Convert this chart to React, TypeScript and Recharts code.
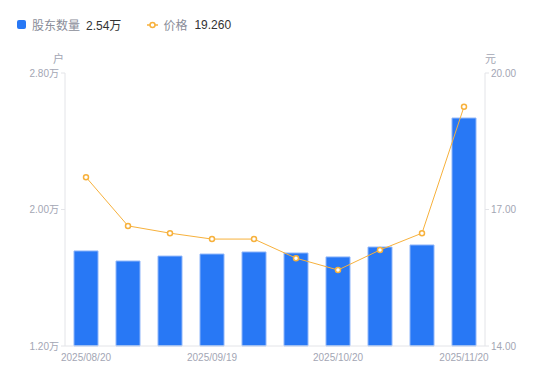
import { ComposedChart, Bar, Line, XAxis, YAxis } from 'recharts';

const dates = [
  '2025/08/20', '2025/08/29', '2025/09/10', '2025/09/19', '2025/09/30',
  '2025/10/10', '2025/10/20', '2025/10/31', '2025/11/10', '2025/11/20',
];
const holders = [17570, 16980, 17270, 17390, 17510, 17450, 17220, 17800, 17920, 25360];
const prices = [17.71, 16.64, 16.48, 16.35, 16.35, 15.93, 15.67, 16.11, 16.48, 19.26];

const holderTicks = [12000, 20000, 28000];
const priceTicks = [14, 17, 20];

const data = dates.map((d, i) => ({ date: d, holders: holders[i], price: prices[i] }));

const FONT = '"Liberation Sans", "Noto Sans CJK SC", sans-serif';
const BLUE = '#2878f5';
const ORANGE = '#f7b13c';
const GRAY = '#a3a6b4';
const AXIS = '#e3e4e8';

export default function App() {
  const tickStyle = { fill: GRAY, fontSize: 10, fontFamily: FONT };
  return (
    <div style={{ position: 'absolute', left: 0, top: 0, width: 550, height: 381, fontFamily: FONT }}>
      <div style={{ position: 'absolute', left: 17, top: 16, height: 17, display: 'flex', alignItems: 'center', fontSize: 12 }}>
        <span style={{ width: 9, height: 9, background: BLUE, borderRadius: 2, display: 'inline-block' }} />
        <span style={{ color: '#8a8d99', marginLeft: 6 }}>股东数量</span>
        <span style={{ color: '#333', marginLeft: 6 }}>2.54万</span>
        <svg width={11} height={8} style={{ marginLeft: 26 }}>
          <line x1={0} y1={4} x2={11} y2={4} stroke={ORANGE} strokeWidth={1.5} />
          <circle cx={5.5} cy={4} r={2.5} fill="#fff" stroke={ORANGE} strokeWidth={1.5} />
        </svg>
        <span style={{ color: '#8a8d99', marginLeft: 5 }}>价格</span>
        <span style={{ color: '#333', marginLeft: 7 }}>19.260</span>
      </div>
      <div style={{ position: 'absolute', left: 53, top: 50, fontSize: 11, color: GRAY }}>户</div>
      <div style={{ position: 'absolute', left: 485, top: 50, fontSize: 11, color: GRAY }}>元</div>
      <ComposedChart width={550} height={381} data={data} margin={{ top: 73, right: 8, bottom: 10, left: 8 }}>
        <XAxis
          dataKey="date"
          interval={2}
          tick={tickStyle}
          tickLine={false}
          axisLine={{ stroke: AXIS }}
          height={25}
        />
        <YAxis
          yAxisId="left"
          width={57}
          domain={[12000, 28000]}
          ticks={holderTicks}
          tickFormatter={(v: number) => (v / 10000).toFixed(2) + '万'}
          tick={tickStyle}
          tickSize={4}
          tickLine={{ stroke: AXIS }}
          axisLine={{ stroke: AXIS }}
        />
        <YAxis
          yAxisId="right"
          orientation="right"
          width={57}
          domain={[14, 20]}
          ticks={priceTicks}
          tickFormatter={(v: number) => v.toFixed(2)}
          tick={tickStyle}
          tickSize={4}
          tickLine={{ stroke: AXIS }}
          axisLine={{ stroke: AXIS }}
        />
        <Bar yAxisId="left" dataKey="holders" fill={BLUE} stroke="#8fb6fa" strokeWidth={1} barSize={24} isAnimationActive={false} />
        <Line
          yAxisId="right"
          dataKey="price"
          stroke={ORANGE}
          strokeWidth={1}
          dot={{ r: 2.5, fill: '#fff', stroke: ORANGE, strokeWidth: 1.5 }}
          activeDot={false}
          isAnimationActive={false}
        />
      </ComposedChart>
    </div>
  );
}
